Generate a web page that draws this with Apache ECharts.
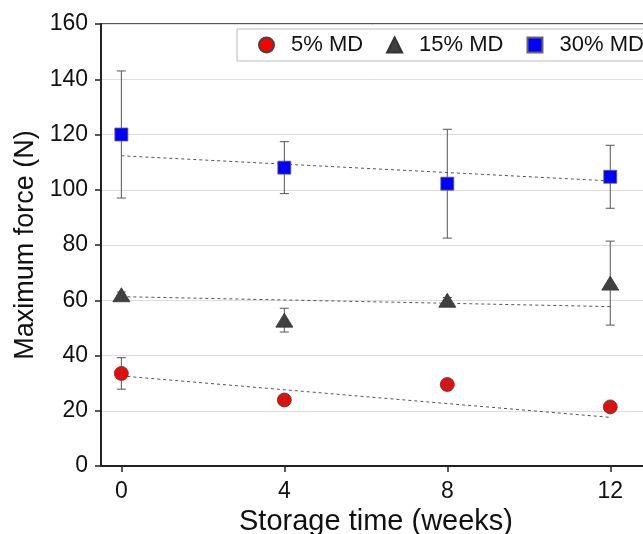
<!DOCTYPE html>
<html>
<head>
<meta charset="utf-8">
<script src="https://cdn.jsdelivr.net/npm/echarts@6/dist/echarts.min.js"></script>
<style>
  html, body { margin: 0; padding: 0; background: #fff; }
  #main { width: 643px; height: 534px; }
</style>
</head>
<body>
<div id="main"></div>
<script>
var weeks = [0, 4, 8, 12];
var xTicks = [0, 4, 8, 12];

// mean values and error (+/-) per group
var md5 = [33.5, 23.9, 29.5, 21.4];
var md5Err = [5.7, 1.5, 1.0, 1.5];
var md15 = [62, 52.8, 60, 66.2];
var md15Err = [1.0, 4.3, 1.0, 15.2];
var md30 = [120, 108, 102.2, 104.7];
var md30Err = [23, 9.4, 19.7, 11.4];

// dashed trend lines, endpoints at week 0 and 12
var trendX = [0, 12];
var trend5 = [32.6, 17.6];
var trend15 = [61.3, 57.7];
var trend30 = [112.3, 103.2];

var names = ['5% MD', '15% MD', '30% MD'];
var icons = ['circle', 'triangle', 'rect'];

var chart = echarts.init(document.getElementById('main'), null, { renderer: 'canvas' });

function pairs(xs, ys) {
  return xs.map(function (x, i) { return [x, ys[i]]; });
}

function errData(ys, errs) {
  return weeks.map(function (x, i) { return [x, ys[i] - errs[i], ys[i] + errs[i]]; });
}

function renderErr(params, api) {
  var lo = api.coord([api.value(0), api.value(1)]);
  var hi = api.coord([api.value(0), api.value(2)]);
  var cap = 4.5;
  var style = { stroke: '#555', lineWidth: 1 };
  return {
    type: 'group',
    children: [
      { type: 'line', shape: { x1: lo[0], y1: lo[1], x2: hi[0], y2: hi[1] }, style: style },
      { type: 'line', shape: { x1: lo[0] - cap, y1: lo[1], x2: lo[0] + cap, y2: lo[1] }, style: style },
      { type: 'line', shape: { x1: hi[0] - cap, y1: hi[1], x2: hi[0] + cap, y2: hi[1] }, style: style }
    ]
  };
}

function errSeries(ys, errs, z) {
  return {
    type: 'custom',
    renderItem: renderErr,
    data: errData(ys, errs),
    encode: { x: 0, y: [1, 2] },
    z: z,
    silent: true
  };
}

function trendSeries(ys) {
  return {
    type: 'line',
    data: pairs(trendX, ys),
    symbol: 'none',
    lineStyle: { color: '#555', width: 1, type: [3, 3] },
    z: 1,
    silent: true
  };
}

var font = 'Liberation Sans, Arial, sans-serif';

chart.setOption({
  animation: false,
  grid: {
    left: 101, right: -8, top: 24, bottom: 68,
    outerBoundsMode: 'none',
    containLabel: false,
    show: true, borderColor: '#222', borderWidth: 1.5
  },
  legend: {
    data: names.map(function (n, i) { return { name: n, icon: icons[i] }; }),
    left: 237, top: 29,
    width: 600,
    padding: [5, 8, 5, 21],
    borderColor: '#bbb', borderWidth: 1,
    itemWidth: 15, itemHeight: 15, itemGap: 23,
    textStyle: { fontFamily: font, fontSize: 22, color: '#111', padding: [0, 0, 0, 12] }
  },
  xAxis: {
    type: 'value',
    min: -0.5, max: 13,
    name: 'Storage time (weeks)',
    nameLocation: 'middle',
    nameGap: 35,
    nameTextStyle: { fontFamily: font, fontSize: 29, color: '#111' },
    axisLine: { onZero: false, lineStyle: { color: '#222', width: 2 } },
    axisTick: { show: true, inside: false, length: 6, customValues: xTicks, lineStyle: { color: '#222', width: 1.5 } },
    axisLabel: { customValues: xTicks, margin: 14, fontFamily: font, fontSize: 23, color: '#111' },
    splitLine: { show: false }
  },
  yAxis: {
    type: 'value',
    min: 0, max: 160, interval: 20,
    name: 'Maximum force (N)',
    nameLocation: 'middle',
    nameGap: 58,
    nameTextStyle: { fontFamily: font, fontSize: 27, color: '#111' },
    axisLine: { show: true, onZero: false, lineStyle: { color: '#222', width: 2 } },
    axisTick: { show: true, inside: false, length: 6, lineStyle: { color: '#222', width: 1.5 } },
    axisLabel: { margin: 13, fontFamily: font, fontSize: 23, color: '#111' },
    splitLine: { show: true, lineStyle: { color: '#ddd', width: 1 } }
  },
  series: [
    trendSeries(trend5),
    trendSeries(trend15),
    trendSeries(trend30),
    errSeries(md15, md15Err, 2),
    errSeries(md30, md30Err, 2),
    {
      name: names[0], type: 'scatter', data: pairs(weeks, md5),
      symbol: 'circle', symbolSize: 14, z: 3,
      itemStyle: { color: '#ff0000', borderColor: '#444', borderWidth: 0.8, opacity: 1 }
    },
    {
      name: names[1], type: 'scatter', data: pairs(weeks, md15),
      symbol: 'triangle', symbolSize: [17, 14], z: 3,
      itemStyle: { color: '#404040', borderColor: '#333', borderWidth: 0.8, opacity: 1 }
    },
    {
      name: names[2], type: 'scatter', data: pairs(weeks, md30),
      symbol: 'rect', symbolSize: 13, z: 3,
      itemStyle: { color: '#0000ff', borderColor: '#666', borderWidth: 0.8, opacity: 1 }
    },
    errSeries(md5, md5Err, 4)
  ]
});
</script>
</body>
</html>
